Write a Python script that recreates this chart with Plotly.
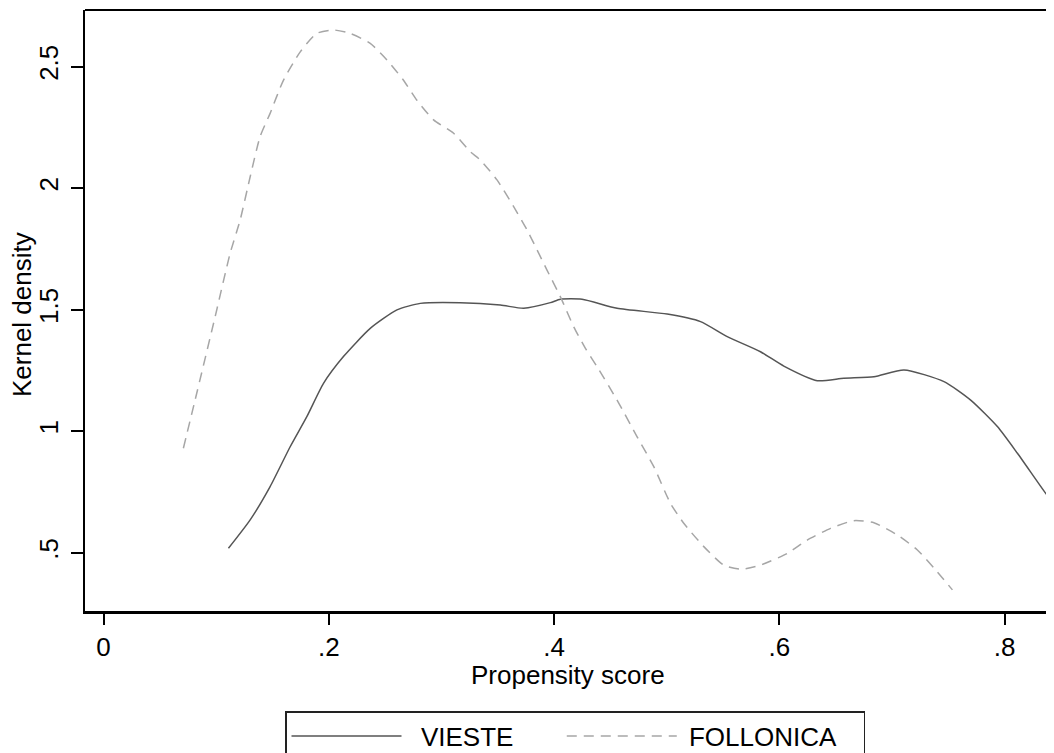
import plotly.graph_objects as go

# VIESTE kernel density (solid)
vieste_x = [0.1109, 0.1302, 0.1479, 0.1657, 0.1805, 0.1953, 0.2130, 0.2368, 0.2605, 0.2812,
            0.3167, 0.3523, 0.3730, 0.3967, 0.4056, 0.4248, 0.4559, 0.5004, 0.5300, 0.5537,
            0.5832, 0.6039, 0.6336, 0.6572, 0.6839, 0.7106, 0.7461, 0.7698, 0.7935, 0.8113,
            0.8364, 0.8440]
vieste_y = [0.518, 0.635, 0.772, 0.936, 1.060, 1.197, 1.307, 1.423, 1.499, 1.526,
            1.529, 1.519, 1.506, 1.529, 1.543, 1.543, 1.506, 1.482, 1.451, 1.389,
            1.327, 1.268, 1.208, 1.218, 1.224, 1.252, 1.204, 1.128, 1.019, 0.909,
            0.744, 0.700]

# FOLLONICA kernel density (dashed)
follonica_x = [0.0709, 0.0813, 0.0991, 0.1124, 0.1213, 0.1302, 0.1390, 0.1479, 0.1597, 0.1748,
               0.1894, 0.2042, 0.2190, 0.2368, 0.2516, 0.2663, 0.2782, 0.2930, 0.3108, 0.3256,
               0.3345, 0.3493, 0.3641, 0.3760, 0.3849, 0.3937, 0.4056, 0.4174, 0.4278, 0.4382,
               0.4559, 0.4737, 0.4885, 0.5033, 0.5151, 0.5329, 0.5506, 0.5655, 0.5832, 0.6070,
               0.6247, 0.6454, 0.6661, 0.6839, 0.7047, 0.7225, 0.7387, 0.7536]
follonica_y = [0.930, 1.128, 1.471, 1.732, 1.869, 2.047, 2.212, 2.308, 2.444, 2.562,
               2.637, 2.651, 2.637, 2.596, 2.528, 2.444, 2.362, 2.281, 2.226, 2.150,
               2.116, 2.034, 1.924, 1.828, 1.746, 1.663, 1.553, 1.430, 1.341, 1.265,
               1.128, 0.977, 0.854, 0.703, 0.621, 0.525, 0.449, 0.432, 0.449, 0.497,
               0.552, 0.600, 0.632, 0.623, 0.573, 0.511, 0.429, 0.347]

x_ticks = [0, 0.2, 0.4, 0.6, 0.8]
x_tick_labels = ["0", ".2", ".4", ".6", ".8"]
y_ticks = [0.5, 1, 1.5, 2, 2.5]
y_tick_labels = [".5", "1", "1.5", "2", "2.5"]

FONT = "Liberation Sans, Arial, sans-serif"
FS = 26
NB = "\u00a0"

fig = go.Figure()
fig.add_trace(go.Scatter(x=vieste_x, y=vieste_y, mode="lines",
                         name=NB * 2 + "VIESTE" + NB * 6,
                         line=dict(color="#555555", width=1.5, shape="spline", smoothing=0.6)))
fig.add_trace(go.Scatter(x=follonica_x, y=follonica_y, mode="lines",
                         name=NB + "FOLLONICA" + NB * 3,
                         line=dict(color="#a6a6a6", width=1.5, dash="10px,7px",
                                   shape="spline", smoothing=0.6)))

fig.update_layout(
    width=1046, height=745,
    margin=dict(l=77, r=0, t=2, b=142, pad=0, autoexpand=False),
    paper_bgcolor="white", plot_bgcolor="white",
    font=dict(family=FONT, size=FS, color="black"),
    showlegend=True,
    legend=dict(orientation="h", x=0.2064, y=-0.1664, xanchor="left", yanchor="top",
                bordercolor="#222222", borderwidth=1.5, bgcolor="white",
                itemwidth=110, font=dict(family=FONT, size=FS, color="black")),
    xaxis=dict(range=[-0.01642, 0.84376], tickvals=x_ticks, ticktext=x_tick_labels,
               automargin=False,
               showgrid=False, zeroline=False, showline=True, linecolor="black", linewidth=3,
               ticks="outside", ticklen=11, tickwidth=1.5, tickcolor="black",
               tickfont=dict(family=FONT, size=FS, color="black")),
    yaxis=dict(range=[0.2601, 2.7333], tickvals=y_ticks, ticktext=y_tick_labels,
               tickangle=-90, ticklabelstandoff=3, automargin=False,
               showgrid=False, zeroline=False, showline=True, linecolor="black", linewidth=2,
               ticks="outside", ticklen=12, tickwidth=1.5, tickcolor="black",
               tickfont=dict(family=FONT, size=FS, color="black")),
    shapes=[dict(type="line", xref="paper", yref="paper", x0=0, x1=1, y0=1, y1=1,
                 line=dict(color="black", width=2))],
    annotations=[
        dict(text="Propensity score", xref="paper", yref="paper",
             x=0.4985, y=-0.1065, xanchor="center", yanchor="middle",
             showarrow=False, font=dict(family=FONT, size=FS, color="black")),
        dict(text="Kernel density", xref="paper", yref="paper",
             x=-0.065, y=0.4925, xanchor="center", yanchor="middle",
             textangle=-90, showarrow=False, font=dict(family=FONT, size=FS, color="black")),
    ],
)

fig.write_html("out.html")
